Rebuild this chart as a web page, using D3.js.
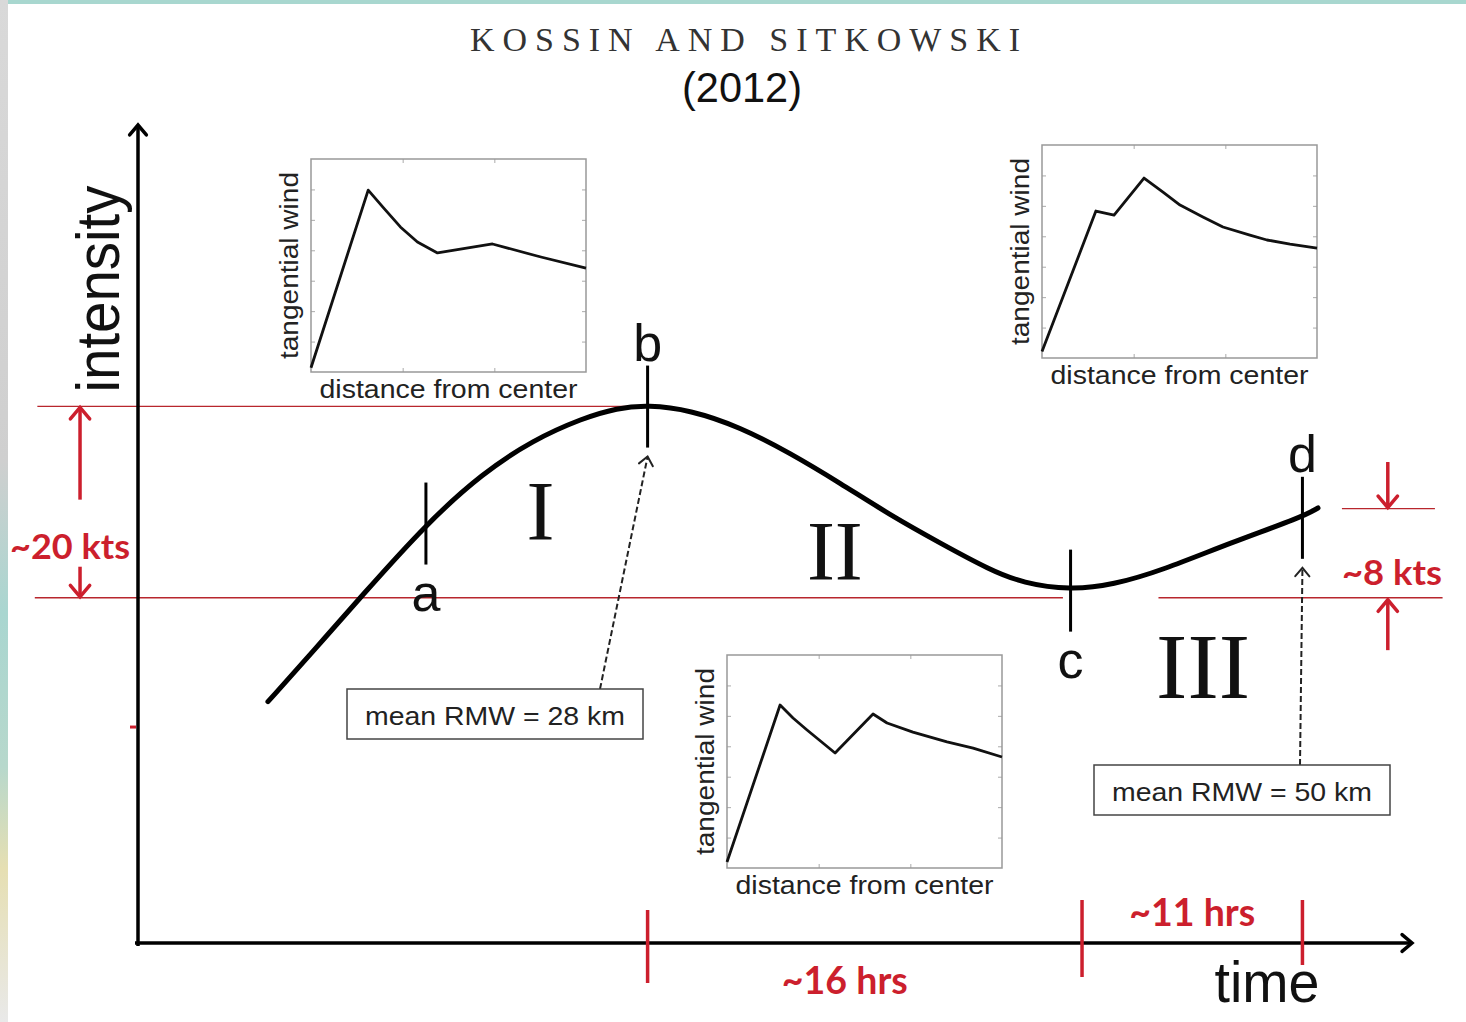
<!DOCTYPE html>
<html>
<head>
<meta charset="utf-8">
<script src="https://cdn.jsdelivr.net/npm/d3@7"></script>
<style>
  body { margin: 0; background: #fff; }
  text { font-family: "Liberation Sans", Arial, sans-serif; fill: #111; }
  .red { fill: #cc1f2d; font-family: Lato, "Open Sans", sans-serif; font-weight: 700; }
  .roman { font-family: "Liberation Serif", "Times New Roman", serif; fill: #111; }
</style>
</head>
<body>
<svg id="chart"></svg>
<script>
// main curve, schematic units (time 0-100, intensity 0-100)
var curveTime = [10.2, 14.05, 17.43, 22.68, 27.08, 31.0, 34.93, 37.6, 40.03, 43.33, 47.25, 51.18, 55.1, 59.03, 62.95, 66.88, 69.47, 73.16, 76.53, 80.46, 85.71, 91.37, 92.62];
var curveIntensity = [29.5, 36.2, 42.2, 51.34, 57.46, 61.49, 64.18, 65.4, 65.77, 65.16, 63.08, 59.9, 56.23, 52.32, 48.9, 45.6, 44.0, 43.15, 43.77, 45.6, 48.9, 52.08, 53.18];

// stage markers
var stageNames = ["a", "b", "c", "d"];
var stageTime = [22.6, 40.0, 73.2, 91.4];
var stageIntensity = [51.4, 65.7, 43.2, 52.1];

// phases
var phaseNames = ["I", "II", "III"];
var phaseTime = [31.6, 54.7, 83.6];
var phaseIntensity = [49.3, 44.4, 30.0];

// durations along the time axis
var durationBounds = [40.0, 74.1, 91.4];
var durationLabels = ["~16 hrs", "~11 hrs"];

// intensity changes
var changeLabels = ["~20 kts", "~8 kts"];
var changeLow = [42.2, 42.2];
var changeHigh = [65.6, 53.1];

// mean radius of maximum wind callouts
var rmwLabels = ["mean RMW = 28 km", "mean RMW = 50 km"];
var rmwStage = [1, 3];

// radial profiles of tangential wind (distance 0-1, wind 0-1)
var profile1Dist = [0, 0.208, 0.263, 0.325, 0.387, 0.46, 0.66, 0.836, 1.0];
var profile1Wind = [0.02, 0.854, 0.772, 0.681, 0.61, 0.559, 0.601, 0.54, 0.488];
var profile2Dist = [0, 0.196, 0.262, 0.371, 0.44, 0.502, 0.585, 0.658, 0.756, 0.818, 0.902, 1.0];
var profile2Wind = [0.03, 0.69, 0.671, 0.845, 0.779, 0.718, 0.662, 0.615, 0.577, 0.554, 0.535, 0.516];
var profile3Dist = [0, 0.193, 0.24, 0.291, 0.393, 0.531, 0.582, 0.676, 0.8, 0.895, 1.0];
var profile3Wind = [0.028, 0.765, 0.704, 0.648, 0.54, 0.723, 0.681, 0.638, 0.592, 0.563, 0.521];

var W = 1466, H = 1022;
var svg = d3.select("#chart").attr("width", W).attr("height", H);

// slide background edges
var defs = svg.append("defs");
var grad = defs.append("linearGradient").attr("id", "edge").attr("x1", 0).attr("y1", 0).attr("x2", 0).attr("y2", 1);
grad.append("stop").attr("offset", "0%").attr("stop-color", "#d9d9d9");
grad.append("stop").attr("offset", "45%").attr("stop-color", "#cfcfcf");
grad.append("stop").attr("offset", "60%").attr("stop-color", "#a9d6d0");
grad.append("stop").attr("offset", "75%").attr("stop-color", "#b7d8cc");
grad.append("stop").attr("offset", "85%").attr("stop-color", "#e6dfb2");
grad.append("stop").attr("offset", "100%").attr("stop-color", "#e9e9e9");
svg.append("rect").attr("width", W).attr("height", H).attr("fill", "#fff");
svg.append("rect").attr("width", W).attr("height", 4).attr("fill", "#a8d7cf");
svg.append("rect").attr("width", 8).attr("height", H).attr("fill", "url(#edge)");

var x = d3.scaleLinear().domain([0, 100]).range([138, 1412]);
var y = d3.scaleLinear().domain([0, 100]).range([943, 125]);

var RED = "#cc1f2d";

function arrow(g, x1, y1, x2, y2, color, width, len, dash) {
  var line = g.append("line").attr("x1", x1).attr("y1", y1).attr("x2", x2).attr("y2", y2)
      .attr("stroke", color).attr("stroke-width", width);
  if (dash) line.attr("stroke-dasharray", dash);
  var a = Math.atan2(y2 - y1, x2 - x1), s = 0.7;
  var p1 = [x2 - len * Math.cos(a - s), y2 - len * Math.sin(a - s)];
  var p2 = [x2 - len * Math.cos(a + s), y2 - len * Math.sin(a + s)];
  g.append("path").attr("d", "M" + p1 + "L" + x2 + "," + y2 + "L" + p2)
      .attr("fill", "none").attr("stroke", color).attr("stroke-width", width)
      .attr("stroke-linecap", "round");
}

// title
svg.append("text").attr("x", 745).attr("y", 51).attr("text-anchor", "middle")
    .style("font-family", "'Liberation Serif', serif")
    .attr("font-size", 34).style("fill", "#333")
    .attr("textLength", 550).attr("lengthAdjust", "spacing")
    .text("KOSSIN AND SITKOWSKI");
svg.append("text").attr("x", 742).attr("y", 102).attr("text-anchor", "middle")
    .attr("font-size", 42).attr("textLength", 120).attr("lengthAdjust", "spacingAndGlyphs")
    .text("(2012)");

// red reference levels
var ref = svg.append("g").attr("stroke", "#b8262d").attr("stroke-width", 1.4);
ref.append("line").attr("x1", x(-7.9)).attr("x2", x(stageTime[1])).attr("y1", y(changeHigh[0])).attr("y2", y(changeHigh[0]));
ref.append("line").attr("x1", x(-8.1)).attr("x2", x(72.6)).attr("y1", y(changeLow[0])).attr("y2", y(changeLow[0]));
ref.append("line").attr("x1", x(80.1)).attr("x2", x(102.4)).attr("y1", y(changeLow[1])).attr("y2", y(changeLow[1]));
ref.append("line").attr("x1", x(94.5)).attr("x2", x(101.8)).attr("y1", y(changeHigh[1])).attr("y2", y(changeHigh[1]));

// axes
var ax = svg.append("g");
arrow(ax, x(0), y(0) + 3, x(0), y(100), "#000", 3.5, 13);
arrow(ax, x(0) - 3, y(0), x(100), y(0), "#000", 3.5, 13);
ax.append("line").attr("x1", x(0) - 8).attr("x2", x(0) - 2).attr("y1", y(26.4)).attr("y2", y(26.4))
    .attr("stroke", RED).attr("stroke-width", 3);

svg.append("text").attr("transform", "translate(119,289) rotate(-90)").attr("text-anchor", "middle")
    .attr("font-size", 62).attr("textLength", 207).attr("lengthAdjust", "spacingAndGlyphs")
    .text("intensity");
svg.append("text").attr("x", 1267).attr("y", 1002).attr("text-anchor", "middle")
    .attr("font-size", 58).attr("textLength", 105).attr("lengthAdjust", "spacingAndGlyphs")
    .text("time");

// duration ticks and labels
var tickUp = [33, 43, 43], tickDown = [40, 34, 22];
durationBounds.forEach(function(t, i) {
  svg.append("line").attr("x1", x(t)).attr("x2", x(t))
      .attr("y1", y(0) - tickUp[i]).attr("y2", y(0) + tickDown[i])
      .attr("stroke", RED).attr("stroke-width", 3.5);
});
var durY = [994, 926], durDx = [-20, 0];
durationLabels.forEach(function(l, i) {
  svg.append("text").attr("class", "red").attr("x", x((durationBounds[i] + durationBounds[i + 1]) / 2) + durDx[i])
      .attr("y", durY[i]).attr("text-anchor", "middle").attr("font-size", 38)
      .attr("textLength", 126).attr("lengthAdjust", "spacingAndGlyphs").text(l);
});

// intensity change arrows
var changeTime = [-4.55, 98.1];
var g2 = svg.append("g");
arrow(g2, x(changeTime[0]), y(54.2), x(changeTime[0]), y(changeHigh[0]) + 1, RED, 3.5, 15);
arrow(g2, x(changeTime[0]), y(46.0), x(changeTime[0]), y(changeLow[0]) - 1, RED, 3.5, 15);
arrow(g2, x(changeTime[1]), y(58.8), x(changeTime[1]), y(changeHigh[1]) - 1, RED, 3.5, 15);
arrow(g2, x(changeTime[1]), y(35.8), x(changeTime[1]), y(changeLow[1]) + 2, RED, 3.5, 15);
svg.append("text").attr("class", "red").attr("x", 70).attr("y", 559).attr("text-anchor", "middle")
    .attr("font-size", 35).attr("textLength", 120).attr("lengthAdjust", "spacingAndGlyphs").text(changeLabels[0]);
svg.append("text").attr("class", "red").attr("x", 1392).attr("y", 585).attr("text-anchor", "middle")
    .attr("font-size", 35).attr("textLength", 100).attr("lengthAdjust", "spacingAndGlyphs").text(changeLabels[1]);

// main curve
var pts = curveTime.map(function(t, i) { return [t, curveIntensity[i]]; });
var line = d3.line().x(function(d) { return x(d[0]); }).y(function(d) { return y(d[1]); })
    .curve(d3.curveBasis);
svg.append("path").datum(pts).attr("d", line).attr("fill", "none")
    .attr("stroke", "#000").attr("stroke-width", 5).attr("stroke-linecap", "round");

// stage ticks
stageNames.forEach(function(n, i) {
  var cx = x(stageTime[i]), cy = y(stageIntensity[i]);
  svg.append("line").attr("x1", cx).attr("x2", cx).attr("y1", cy - 40).attr("y2", cy + 42)
      .attr("stroke", "#000").attr("stroke-width", 3);
  var below = (i % 2 === 0);
  svg.append("text").attr("x", cx).attr("y", below ? cy + 88 : cy - 45)
      .attr("text-anchor", "middle").attr("font-size", 52).text(n);
});

// phase numerals
var phaseSize = [84, 84, 94];
phaseNames.forEach(function(n, i) {
  svg.append("text").attr("class", "roman").attr("x", x(phaseTime[i])).attr("y", y(phaseIntensity[i]))
      .attr("text-anchor", "middle").attr("font-size", phaseSize[i]).text(n);
});

// RMW callouts
var boxes = [{cx: 495, top: 689}, {cx: 1242, top: 765}];
var boxFoot = [600, 1300];
rmwLabels.forEach(function(l, i) {
  var b = boxes[i], s = rmwStage[i];
  var tipX = x(stageTime[s]), tipY = y(stageIntensity[s]) + 42 + 9;
  arrow(svg, boxFoot[i], b.top, tipX, tipY, "#222", 2, 11, "6,3");
  svg.append("rect").attr("x", b.cx - 148).attr("y", b.top).attr("width", 296).attr("height", 50)
      .attr("fill", "#fff").attr("stroke", "#444").attr("stroke-width", 1.5);
  svg.append("text").attr("x", b.cx).attr("y", b.top + 36).attr("text-anchor", "middle")
      .attr("font-size", 25).attr("textLength", 260).attr("lengthAdjust", "spacingAndGlyphs")
      .style("fill", "#222").text(l);
});

// profile insets
var insets = [
  {left: 311, top: 159, dist: profile1Dist, wind: profile1Wind},
  {left: 1042, top: 145, dist: profile2Dist, wind: profile2Wind},
  {left: 727, top: 655, dist: profile3Dist, wind: profile3Wind}
];
var iw = 275, ih = 213;
insets.forEach(function(p) {
  var g = svg.append("g");
  var ix = d3.scaleLinear().domain([0, 1]).range([p.left, p.left + iw]);
  var iy = d3.scaleLinear().domain([0, 1]).range([p.top + ih, p.top]);
  var xt = [1 / 3, 2 / 3], yt = d3.range(1, 7).map(function(k) { return k / 7; });
  [[d3.axisBottom(ix), p.top + ih, xt], [d3.axisTop(ix), p.top, xt]].forEach(function(a) {
    g.append("g").attr("transform", "translate(0," + a[1] + ")")
        .call(a[0].tickValues(a[2]).tickSize(-4).tickFormat(""));
  });
  [[d3.axisLeft(iy), p.left, yt], [d3.axisRight(iy), p.left + iw, yt]].forEach(function(a) {
    g.append("g").attr("transform", "translate(" + a[1] + ",0)")
        .call(a[0].tickValues(a[2]).tickSize(-4).tickFormat(""));
  });
  g.selectAll(".domain").remove();
  g.selectAll(".tick line").attr("stroke", "#aaa");
  g.append("rect").attr("x", p.left).attr("y", p.top).attr("width", iw).attr("height", ih)
      .attr("fill", "none").attr("stroke", "#999").attr("stroke-width", 1.5);
  var d = p.dist.map(function(v, i) { return [v, p.wind[i]]; });
  g.append("path").datum(d).attr("fill", "none").attr("stroke", "#111").attr("stroke-width", 2.8)
      .attr("stroke-linejoin", "round")
      .attr("d", d3.line().x(function(v) { return ix(v[0]); }).y(function(v) { return iy(v[1]); }));
  g.append("text").attr("transform", "translate(" + (p.left - 13) + "," + (p.top + ih / 2) + ") rotate(-90)")
      .attr("text-anchor", "middle").attr("font-size", 26).attr("textLength", 187)
      .attr("lengthAdjust", "spacingAndGlyphs").style("fill", "#222").text("tangential wind");
  g.append("text").attr("x", p.left + iw / 2).attr("y", p.top + ih + 26).attr("text-anchor", "middle")
      .attr("font-size", 26).attr("textLength", 258).attr("lengthAdjust", "spacingAndGlyphs")
      .style("fill", "#222").text("distance from center");
});
</script>
</body>
</html>
